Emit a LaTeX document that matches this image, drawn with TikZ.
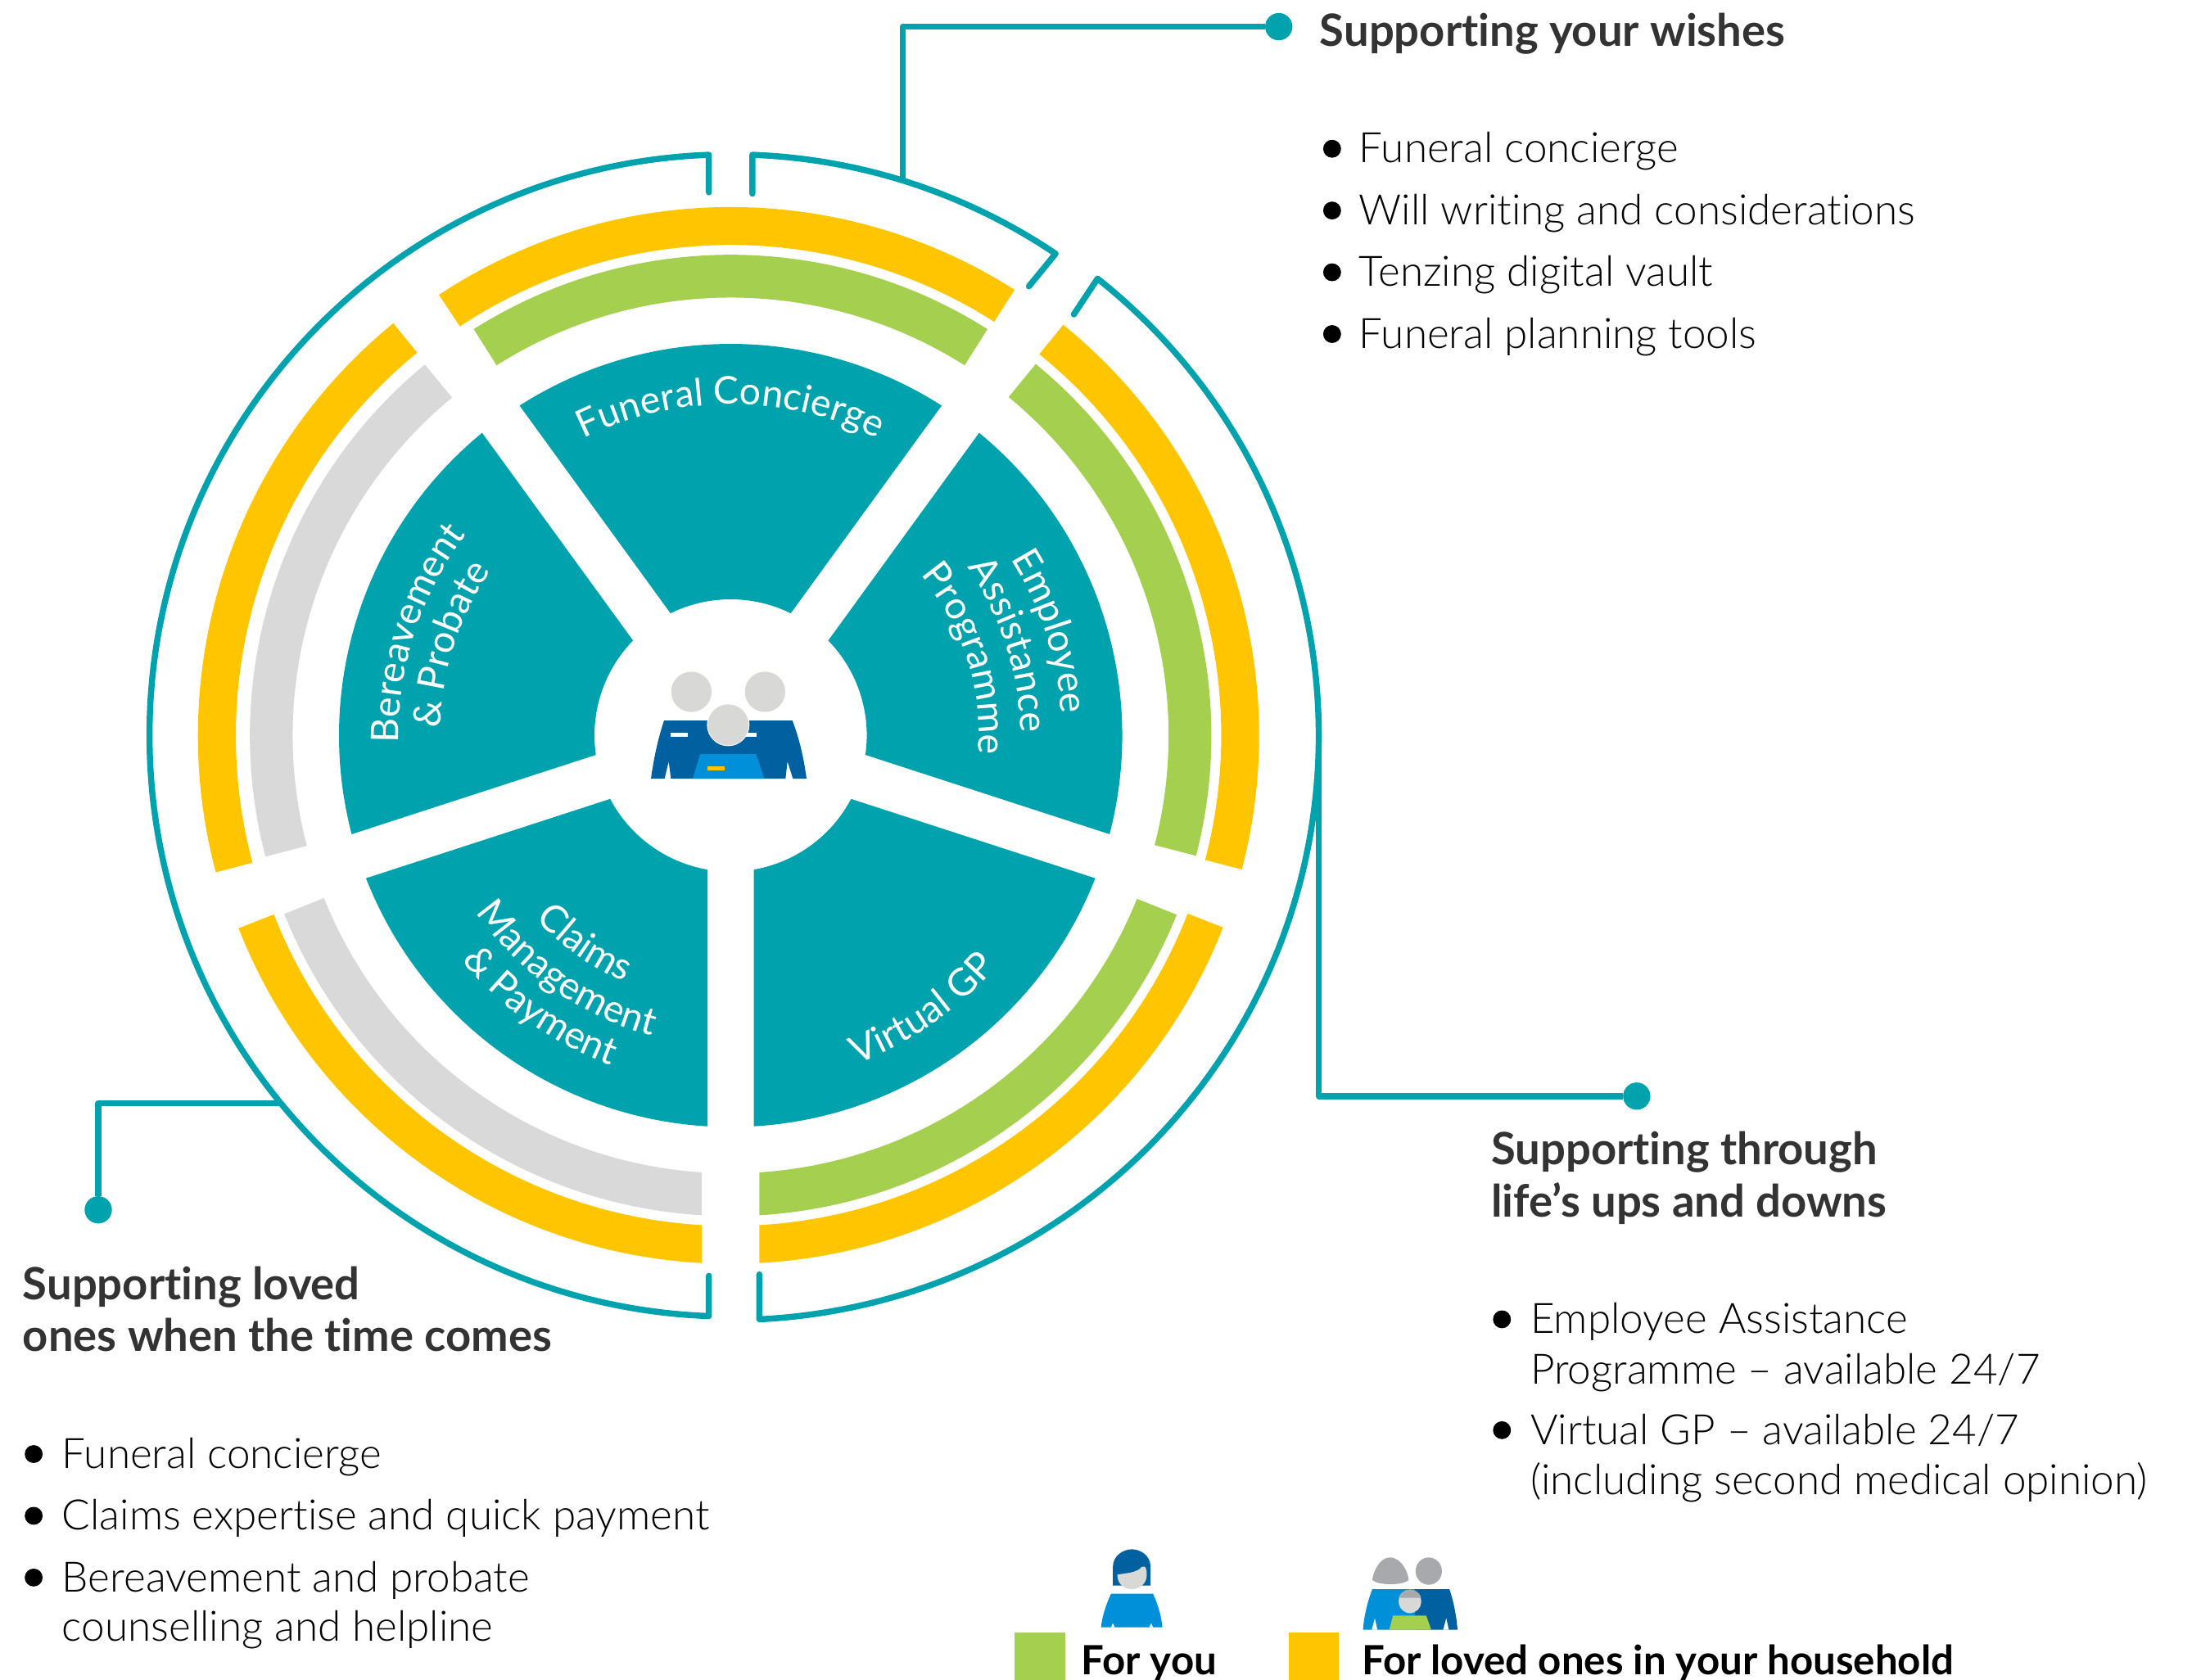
\documentclass[tikz,border=0pt]{standalone}
\usepackage{fontspec}
\setmainfont{Lato}[Ligatures=NoCommon]
\newfontfamily\thinf{Lato Light}[Ligatures=NoCommon]
\usetikzlibrary{decorations.text}
\definecolor{teal1}{HTML}{00A3AD}
\definecolor{yel1}{HTML}{FFC600}
\definecolor{grn1}{HTML}{A4CF4F}
\definecolor{gry1}{HTML}{D9D9D9}
\definecolor{dkb}{HTML}{0060A0}
\definecolor{ltb}{HTML}{0090DA}
\definecolor{headg}{HTML}{D8D8D6}
\definecolor{midg}{HTML}{A7A9AC}
\definecolor{txt1}{HTML}{333333}
\tikzset{
  hd/.style={anchor=base west,inner sep=0pt,text=txt1,font=\fontsize{20.4}{24}\selectfont\bfseries},
  bodytxt/.style={anchor=base west,inner sep=0pt,text=black,font=\thinf\fontsize{19.2}{23}\selectfont},
  legtxt/.style={anchor=base west,inner sep=0pt,text=black,font=\fontsize{18.45}{22}\selectfont\bfseries},
  bul/.style={circle,fill=black,inner sep=0pt,minimum size=8.2pt},
  dot/.style={circle,fill=teal1,inner sep=0pt,minimum size=12.5pt},
  outline/.style={draw=teal1,line width=2.8pt,line cap=round,line join=round},
}
\newcommand{\lblfont}{\fontsize{17.4}{20}\selectfont\color{white}}
\newcommand{\ringseg}[5]{\fill[#1] (#4:#3) arc[start angle=#4,end angle=#5,radius=#3] -- (#5:#2) arc[start angle=#5,end angle=#4,radius=#2] -- cycle;}
\newcommand{\ringsegb}[6]{\fill[#1] (#4:#3) arc[start angle=#4,end angle=#5,radius=#3] -- (#6:#2) arc[start angle=#6,end angle=#4,radius=#2] -- cycle;}
\newcommand{\tsector}[2]{\fill[teal1] ({#1+3.39}:279) arc[start angle={#1+3.39},end angle={#2-3.39},radius=279] -- ({#2-9.79}:97) arc[start angle={#2-9.79},end angle={#1+9.79},radius=97] -- cycle;}
\newcommand{\arclabel}[4]{\path[decorate,decoration={text along path,text align=center,text={|\lblfont|#4}}] ({#2}:#1) arc[start angle={#2},end angle={#3},radius=#1];}
\begin{document}
\begin{tikzpicture}[x=0.642857pt,y=0.642857pt]
\useasboundingbox (0,0) rectangle (1568,-1197);
\begin{scope}[shift={(520.5,-524)}]
  % teal sectors
  \tsector{54}{126}
  \tsector{-18}{54}
  \tsector{-90}{-18}
  \tsector{198}{270}
  \tsector{126}{198}
  % rings
  \ringseg{yel1}{349.5}{376.5}{123.5}{57.5}
  \ringseg{grn1}{312}{342.5}{122.3}{57.7}
  \ringseg{yel1}{349.5}{376.5}{51}{-14.7}
  \ringseg{grn1}{312}{342.5}{50.6}{-14.5}
  \ringsegb{yel1}{349.5}{376.5}{-21.3}{-86.88}{-86.64}
  \ringsegb{grn1}{312}{342.5}{-21.9}{-86.57}{-86.23}
  \ringsegb{yel1}{349.5}{376.5}{201.4}{266.88}{266.64}
  \ringsegb{gry1}{312}{342.5}{201.8}{266.57}{266.23}
  \ringseg{yel1}{352.5}{379.5}{129.3}{194.9}
  \ringseg{gry1}{312}{342.5}{129.5}{194.6}
  % outer outline
  \draw[outline] (-15.5,387) -- (92.15:414) arc[start angle=92.15,end angle=267.85,radius=414] -- (-15.5,-385);
  \draw[outline] (15.5,386) -- (87.85:414) arc[start angle=87.85,end angle=56,radius=414] -- (212.5,320);
  \draw[outline] (244.5,300) -- (51.4:419 and 416.5) arc[start angle=51.4,end angle=-87.2,x radius=419,y radius=416.5] -- (20.5,-384);
  % curved labels
  \arclabel{236}{130}{50}{Funeral Concierge}
  \arclabel{236}{58}{-22}{Employee}
  \arclabel{206.5}{58}{-22}{Assistance}
  \arclabel{177}{58}{-22}{Programme}
  \arclabel{236.5}{202}{122}{Bereavement}
  \arclabel{207}{202}{122}{{\&} Probate}
  \arclabel{251}{-95}{-15}{Virtual GP}
  \arclabel{191}{195}{275}{Claims}
  \arclabel{221}{195}{275}{Management}
  \arclabel{250}{195}{275}{{\&} Payment}
\end{scope}
% connectors
\coordinate (c1) at (643,-128);
\coordinate (c2) at (939.5,-525);
\coordinate (c3) at (199,-786);
\node[dot] (d1) at (911,-19) {};
\node[dot] (d2) at (1166,-781) {};
\node[dot] (d3) at (70,-862) {};
\draw[outline,line cap=butt] (c1) |- (d1);
\draw[outline,line cap=butt] (c2) |- (d2);
\draw[outline,line cap=butt] (c3) -| (d3);
% centre icon
\begin{scope}[shift={(420,-455)},xscale=.19444,yscale=.19444]
  \fill[dkb] (273,-300) -- (743,-300) .. controls (770,-370) and (785,-440) .. (795,-513) -- (745,-513) -- (725,-450) -- (718,-513) -- (298,-513) -- (290,-450) -- (275,-513) -- (225,-513) .. controls (235,-440) and (250,-370) .. (273,-300) -- cycle;
  \fill[ltb] (405,-423) -- (610,-423) -- (640,-513) -- (378,-513) -- cycle;
  \fill[yel1] (433,-467) rectangle (495,-483);
  \fill[white] (298,-346) rectangle (360,-361);
  \fill[white] (560,-346) rectangle (613,-361);
  \fill[headg] (373,-195) circle (74);
  \fill[headg] (643,-195) circle (74);
  \fill[white] (508,-316) circle (78);
  \fill[headg] (508,-316) circle (75);
\end{scope}
% legend icons
\begin{scope}[shift={(700,-1085)},xscale=.4464,yscale=.19444]
  \fill[dkb] (208,-230) -- (208,-160) .. controls (208,-120) and (225,-97) .. (238,-97) .. controls (252,-97) and (268,-120) .. (268,-160) -- (268,-230) -- cycle;
  \fill[headg] (250,-170) .. controls (258,-150) and (262,-160) .. (262,-190) .. controls (262,-225) and (250,-243) .. (238,-243) .. controls (226,-243) and (215,-225) .. (215,-190) .. controls (225,-185) and (240,-185) .. (250,-170) -- cycle;
  \fill[ltb] (205,-260) -- (272,-260) .. controls (280,-300) and (285,-340) .. (287,-383) -- (189,-383) .. controls (191,-340) and (197,-300) .. (205,-260) -- cycle;
  \fill[white] (205,-383) -- (208,-368) -- (211,-383) -- cycle;
  \fill[white] (266,-383) -- (269,-368) -- (272,-383) -- cycle;
  \fill[midg] (650,-127) .. controls (670,-127) and (680,-190) .. (680,-210) .. controls (670,-230) and (632,-230) .. (622,-210) .. controls (622,-190) and (632,-127) .. (650,-127) -- cycle;
  \fill[midg] (712,-177) ellipse (21 and 50);
  \fill[dkb] (685,-243) -- (745,-243) .. controls (752,-290) and (756,-340) .. (758,-392) -- (690,-392) -- cycle;
  \fill[ltb] (622,-243) -- (690,-243) -- (690,-392) -- (607,-392) .. controls (609,-340) and (614,-290) .. (622,-243) -- cycle;
  \fill[white] (621,-392) -- (626,-350) -- (630,-392) -- cycle;
  \fill[white] (735,-392) -- (740,-350) -- (744,-392) -- cycle;
  \fill[headg] (682,-288) ellipse (18 and 43);
  \fill[midg] (664,-275) .. controls (666,-255) and (675,-245) .. (682,-245) .. controls (690,-245) and (698,-255) .. (700,-275) -- cycle;
  \fill[grn1] (655,-340) -- (708,-340) -- (716,-392) -- (649,-392) -- cycle;
\end{scope}
% texts: wishes
\node[hd] (t1) at (940,-33) {Supporting your wishes};
\node[bul] (b11) at (949,-106) {};
\node[bul] (b12) at (949,-150) {};
\node[bul] (b13) at (949,-194) {};
\node[bul] (b14) at (949,-238) {};
\node[bodytxt] (w1) at (968,-116) {Funeral concierge};
\node[bodytxt] (w2) at (968,-160) {Will writing and considerations};
\node[bodytxt] (w3) at (968,-204) {Tenzing digital vault};
\node[bodytxt] (w4) at (968,-248) {Funeral planning tools};
% texts: ups and downs
\node[hd] (t2a) at (1062,-830) {Supporting through};
\node[hd] (t2b) at (1062,-867) {life’s ups and downs};
\node[bul] (b21) at (1070,-940) {};
\node[bul] (b22) at (1070,-1019) {};
\node[bodytxt] (u1) at (1090,-950) {Employee Assistance};
\node[bodytxt] (u2) at (1090,-986) {Programme – available 24/7};
\node[bodytxt] (u3) at (1090,-1029) {Virtual GP – available 24/7};
\node[bodytxt] (u4) at (1090,-1065) {(including second medical opinion)};
% texts: loved ones
\node[hd] (t3a) at (16,-926) {Supporting loved};
\node[hd] (t3b) at (16,-963) {ones when the time comes};
\node[bul] (b31) at (24,-1036) {};
\node[bul] (b32) at (24,-1080) {};
\node[bul] (b33) at (24,-1124) {};
\node[bodytxt] (l1) at (44,-1046) {Funeral concierge};
\node[bodytxt] (l2) at (44,-1090) {Claims expertise and quick payment};
\node[bodytxt] (l3) at (44,-1134) {Bereavement and probate};
\node[bodytxt] (l4) at (44,-1169) {counselling and helpline};
% legend
\fill[grn1] (723,-1163) rectangle (759,-1197);
\fill[yel1] (918,-1163) rectangle (954,-1197);
\node[legtxt] (g1) at (770,-1193) {For you};
\node[legtxt] (g2) at (970,-1193) {For loved ones in your household};
\end{tikzpicture}
\end{document}
